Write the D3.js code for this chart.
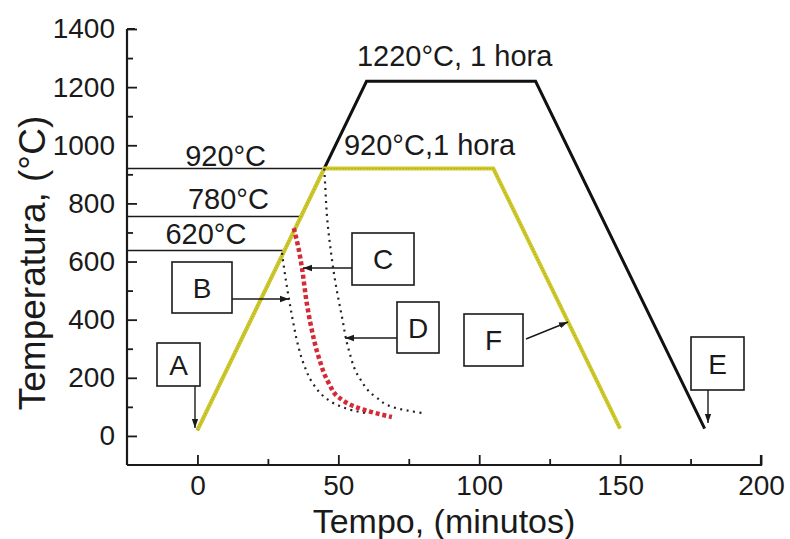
<!DOCTYPE html>
<html><head><meta charset="utf-8">
<script src="https://cdn.jsdelivr.net/npm/d3@7"></script>
<style>body{margin:0;background:#fff}text{font-family:Arial,"Liberation Sans",sans-serif;fill:#1a1a1a}</style>
</head><body><svg id="c" width="790" height="539"></svg>
<script>
// Data (time in minutes, temperature in °C)
const xTicks = [0, 50, 100, 150, 200];
const yTicks = [0, 200, 400, 600, 800, 1000, 1200, 1400];
const pathE = [[0,20],[45,920],[60,1220],[120,1220],[180,25]];
const pathF = [[0,20],[45,920],[105,920],[150,25]];
const curveB = [[30,630],[31,560],[32.5,470],[34,390],[35.5,320],[38,240],[41,180],[45,135],[50,105],[55,88],[61,76]];
const curveC = [[34.2,715],[36,639],[37.1,577],[38.8,457],[40.6,364],[43,272],[46.6,182],[50,134],[56,100],[63,79],[69,65]];
const curveD = [[45,920],[45.3,869],[46,753],[47.3,639],[49,526],[51.3,409],[53.7,296],[57.3,203],[63.3,134],[70.4,96],[79.6,79]];
const refLines = [{t:920, x:45, label:"920°C", lx:10, ly:927},{t:755, x:37.5, label:"780°C", lx:11, ly:782},{t:638, x:30.5, label:"620°C", lx:3, ly:662}];
const topLabels = [{x:56.6, y:1273, label:"1220°C, 1 hora"},{x:52, y:967, label:"920°C,1 hora"}];

const svg = d3.select("#c");
const x = d3.scaleLinear().domain([-25,200]).range([127,761]);
const y = d3.scaleLinear().domain([-100,1400]).range([465,29]);
const line = d3.line().x(d=>x(d[0])).y(d=>y(d[1]));
const curve = d3.line().x(d=>x(d[0])).y(d=>y(d[1])).curve(d3.curveMonotoneY);

// axes
const gx = svg.append("g").attr("transform",`translate(0,${y(-100)})`)
  .call(d3.axisBottom(x).tickValues(d3.range(0,201,25)).tickSize(-10).tickPadding(10)
    .tickFormat(d=>xTicks.includes(d)?d:""));
const gy = svg.append("g").attr("transform",`translate(${x(-25)},0)`)
  .call(d3.axisLeft(y).tickValues(d3.range(-100,1401,100)).tickSize(-10).tickPadding(12)
    .tickFormat(d=>yTicks.includes(d)?d:""));
[gx,gy].forEach(g=>{
  g.select(".domain").attr("stroke","#1a1a1a").attr("stroke-width",2.2);
  g.selectAll(".tick line").attr("stroke","#1a1a1a").attr("stroke-width",1.8);
  g.selectAll(".tick text").attr("font-size",28).style("font-family","Arial,'Liberation Sans',sans-serif").attr("fill","#1a1a1a");
});
gx.selectAll(".tick").filter(d=>!xTicks.includes(d)).select("line").attr("y2",-6);
gy.selectAll(".tick").filter(d=>!yTicks.includes(d)).select("line").attr("x2",6);
gy.selectAll(".tick").filter(d=>d===-100).select("line").remove();
gy.select(".domain").attr("d",`M0,${y(1400)}H8M0,${y(1400)}V${y(-100)}`);
gx.select(".domain").attr("d",`M${x(-25)},0H${x(200)}V-10`);

// reference lines
refLines.forEach(r=>{
  svg.append("line").attr("x1",x(-25)).attr("x2",x(r.x)).attr("y1",y(r.t)).attr("y2",y(r.t))
    .attr("stroke","#1a1a1a").attr("stroke-width",1.6);
  svg.append("text").attr("x",x(r.lx)).attr("y",y(r.ly)).attr("text-anchor","middle").attr("font-size",29).text(r.label);
});

// paths
svg.append("path").attr("d",line(pathE)).attr("fill","none").attr("stroke","#111").attr("stroke-width",3);
svg.append("path").attr("d",line(pathF)).attr("fill","none").attr("stroke","#cfca2a").attr("stroke-width",4);
svg.append("path").attr("d",line(pathF)).attr("fill","none").attr("stroke","#8a8a2a").attr("stroke-width",1).attr("stroke-dasharray","1,2").attr("opacity",0.7);

svg.append("path").attr("d",curve(curveB)).attr("fill","none").attr("stroke","#222").attr("stroke-width",2.2).attr("stroke-dasharray","2,4.5");
svg.append("path").attr("d",curve(curveD)).attr("fill","none").attr("stroke","#222").attr("stroke-width",2.2).attr("stroke-dasharray","2,4.5");
svg.append("path").attr("d",curve(curveC)).attr("fill","none").attr("stroke","#d42a35").attr("stroke-width",4.5).attr("stroke-dasharray","4,2.8");

topLabels.forEach(t=>svg.append("text").attr("x",x(t.x)).attr("y",y(t.y)).attr("font-size",29).text(t.label));

// annotation boxes
const defs = svg.append("defs");
defs.append("marker").attr("id","ar").attr("viewBox","0 0 10 10").attr("refX",10).attr("refY",5)
  .attr("markerWidth",9).attr("markerHeight",9).attr("markerUnits","userSpaceOnUse").attr("orient","auto")
  .append("path").attr("d","M0,1.5L10,5L0,8.5Z").attr("fill","#1a1a1a");
const boxes = [
  {l:"A", x0:157,y0:343,x1:200,y1:386, a:[195,386,195,428]},
  {l:"B", x0:172,y0:262,x1:232,y1:313, a:[232,299,289,299]},
  {l:"C", x0:352,y0:233,x1:414,y1:285, a:[352,268,303,268]},
  {l:"D", x0:397,y0:302,x1:439,y1:353, a:[397,338,345,338]},
  {l:"F", x0:464,y0:314,x1:523,y1:366, a:[526,339,568,322]},
  {l:"E", x0:691,y0:337,x1:744,y1:390, a:[708,390,708,423]}
];
boxes.forEach(b=>{
  svg.append("rect").attr("x",b.x0).attr("y",b.y0).attr("width",b.x1-b.x0).attr("height",b.y1-b.y0)
    .attr("fill","#fff").attr("stroke","#1a1a1a").attr("stroke-width",1.6);
  svg.append("text").attr("x",(b.x0+b.x1)/2).attr("y",(b.y0+b.y1)/2+10).attr("text-anchor","middle").attr("font-size",28).text(b.l);
  svg.append("line").attr("x1",b.a[0]).attr("y1",b.a[1]).attr("x2",b.a[2]).attr("y2",b.a[3])
    .attr("stroke","#1a1a1a").attr("stroke-width",1.4).attr("marker-end","url(#ar)");
});

// axis titles
svg.append("text").attr("x",444).attr("y",533).attr("text-anchor","middle").attr("font-size",34).text("Tempo, (minutos)");
svg.append("text").attr("transform","translate(45,263) rotate(-90)").attr("text-anchor","middle").attr("font-size",37).text("Temperatura, (°C)");
</script></body></html>
